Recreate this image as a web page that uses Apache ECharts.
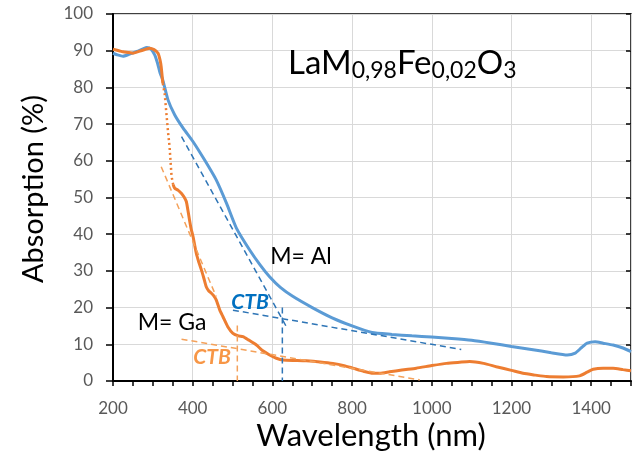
<!DOCTYPE html>
<html>
<head>
<meta charset="utf-8">
<script src="https://cdn.jsdelivr.net/npm/echarts@6/dist/echarts.min.js"></script>
<style>html,body{margin:0;padding:0;background:#fff}#c{width:635px;height:451px}</style>
</head>
<body>
<div id="c"></div>
<script>
// ---- data ----
const xTicks = [200, 400, 600, 800, 1000, 1200, 1400];
const yTicks = [0, 10, 20, 30, 40, 50, 60, 70, 80, 90, 100];

// M = Al (blue)
const alWavelength = [200,210,225,240,260,275,285,295,305,312,318,325,338,355,376,401,430,459,485,510,543,570,593,620,652,700,750,800,850,900,950,1000,1050,1100,1150,1200,1250,1300,1340,1360,1375,1390,1410,1430,1455,1480,1500];
const alAbsorption = [89.3,88.9,88.5,89.0,89.8,90.5,90.9,90.5,88.8,86.5,84,82,76.6,72.5,68.9,65.2,60.2,54.8,48.4,41.6,35.7,31.5,28.4,25.5,23.0,20,17.2,15,13.2,12.7,12.3,12,11.6,11.1,10.3,9.4,8.6,7.7,7.1,7.6,9,10.3,10.7,10.3,9.8,9,8.0];

// M = Ga (orange), solid parts (null = sparse steep part drawn dotted)
const gaWavelength = [200,215,225,240,250,265,280,292,303,313,318,321,325,340,351,355,363,372,378,384,388,392,396,401,409,415,422,428,434,440,447,453,459,468,476,488,501,515,526,540,560,575,593,610,627,660,685,720,752,780,802,830,852,870,894,925,961,1000,1037,1070,1095,1130,1162,1200,1229,1260,1288,1330,1371,1390,1405,1430,1455,1480,1500];
const gaAbsorption = [90.4,90,89.7,89.5,89.3,89.8,90.3,90.7,90.3,89.3,87.5,85.6,81.1,null,53.5,52.5,52,51.1,50.2,48.9,46.5,43.9,41.5,39.3,34.8,32.5,30.2,28,25.7,24.6,23.9,23.2,22.1,19.3,17.5,14.8,13.0,12.3,12.1,11.2,9.8,8.3,7.1,6.2,5.7,5.6,5.5,5.2,4.8,4.2,3.5,2.6,2.1,2.1,2.5,3.0,3.5,4.2,4.8,5.1,5.3,4.8,3.9,2.9,2.1,1.6,1.2,1.1,1.4,2.4,3.2,3.5,3.5,3.1,2.8];
// M = Ga, sparse steep part
const gaSteepWavelength = [325,330,334,338,342,347,351];
const gaSteepAbsorption = [81.1,78,72.9,68,63.8,55.7,53.5];

// tangent constructions
const alTangentSteep = [[372, 66.6], [635, 14.8]];
const alTangentFlat  = [[501, 19.3], [1074, 8.6]];
const alCTB          = [[625, 20], [625, 0]];
const gaTangentSteep = [[321, 58.4], [459, 23.0]];
const gaTangentFlat  = [[372, 11.4], [970, 0.3]];
const gaCTB          = [[512, 15.1], [512, 0]];

const zip = (xs, ys) => xs.map((x, i) => [x, ys[i]]);

const FONT = 'Lato, "Open Sans", sans-serif';
const BLUE = '#5B9BD5', ORANGE = '#ED7D31';
const BLUE_DASH = '#2E75B6', ORANGE_DASH = '#F4A15A';

const chart = echarts.init(document.getElementById('c'), null, {renderer: 'canvas'});

const baseX = {
  type: 'value', min: xTicks[0], max: 1500, interval: 200,
  axisLine: {show: true, lineStyle: {color: '#000', width: 2}},
  splitLine: {show: false}
};
const baseY = {
  type: 'value', min: yTicks[0], max: yTicks[yTicks.length - 1], interval: 10,
  axisLine: {show: true, lineStyle: {color: '#000', width: 2}},
  splitLine: {show: false}
};

function dashed(data, color) {
  return {
    type: 'line', data: data, symbol: 'none', silent: true, z: 4,
    lineStyle: {color: color, width: 1.5, type: [6, 4]}
  };
}

chart.setOption({
  animation: false,
  backgroundColor: '#fff',
  grid: {left: 113, right: 4, top: 14, bottom: 70, show: true, borderColor: '#000', borderWidth: 1.5},
  xAxis: [
    Object.assign({}, baseX, {
      axisTick: {show: true, length: 5, lineStyle: {color: '#000', width: 1.5}},
      minorTick: {show: true, splitNumber: 4, length: 5, lineStyle: {color: '#000', width: 1.5}},
      axisLabel: {show: true, margin: 19, fontSize: 17, color: '#595959', fontFamily: FONT, showMaxLabel: false,
                  formatter: v => String(v)},
      splitLine: {show: true, lineStyle: {color: '#D9D9D9', width: 1}}
    }),
    Object.assign({}, baseX, {
      axisLine: {show: false},
      axisTick: {show: true, inside: true, length: 5, lineStyle: {color: '#000', width: 1.5}},
      minorTick: {show: true, splitNumber: 4, length: 5, lineStyle: {color: '#000', width: 1.5}},
      axisLabel: {show: false}
    })
  ],
  yAxis: [
    Object.assign({}, baseY, {
      axisTick: {show: true, length: 7, lineStyle: {color: '#000', width: 1.5}},
      axisLabel: {show: true, margin: 20, fontSize: 17, color: '#595959', fontFamily: FONT},
      splitLine: {show: true, lineStyle: {color: '#D9D9D9', width: 1}}
    }),
    Object.assign({}, baseY, {
      axisLine: {show: false},
      axisTick: {show: true, inside: true, length: 5, lineStyle: {color: '#000', width: 1.5}},
      axisLabel: {show: false}
    })
  ],
  series: [
    {name: 'M= Al', type: 'line', data: zip(alWavelength, alAbsorption), symbol: 'none', smooth: 0.2,
     lineStyle: {color: BLUE, width: 3}, z: 2},
    {name: 'M= Ga', type: 'line', data: zip(gaWavelength, gaAbsorption), symbol: 'none', smooth: 0.2,
     connectNulls: false, lineStyle: {color: ORANGE, width: 3}, z: 3},
    {name: 'M= Ga steep', type: 'line', data: zip(gaSteepWavelength, gaSteepAbsorption), symbol: 'none',
     lineStyle: {color: ORANGE, width: 2.5, type: [2, 3]}, z: 3},
    dashed(alTangentSteep, BLUE_DASH),
    dashed(alTangentFlat, BLUE_DASH),
    dashed(alCTB, BLUE_DASH),
    dashed(gaTangentSteep, ORANGE_DASH),
    dashed(gaTangentFlat, ORANGE_DASH),
    dashed(gaCTB, ORANGE_DASH)
  ],
  graphic: [
    {type: 'text', x: 288, y: 63, z: 10, style: {
      text: '{b|LaM}{s|0,98}{b|Fe}{s|0,02}{b|O}{s|3}',
      verticalAlign: 'middle', align: 'left',
      rich: {
        b: {fontSize: 33, fontFamily: FONT, fill: '#000', lineHeight: 38},
        s: {fontSize: 23, fontFamily: FONT, fill: '#000', lineHeight: 13, verticalAlign: 'bottom'}
      }}},
    {type: 'text', x: 301, y: 257, z: 10, style: {text: 'M= Al', fontSize: 23, fontFamily: FONT, fill: '#000', align: 'center', verticalAlign: 'middle'}},
    {type: 'text', x: 172, y: 323, z: 10, style: {text: 'M= Ga', fontSize: 23, fontFamily: FONT, fill: '#000', align: 'center', verticalAlign: 'middle'}},
    {type: 'text', x: 250, y: 302, z: 10, style: {text: 'CTB', fontSize: 21, fontWeight: 'bold', fontStyle: 'italic', fontFamily: FONT, fill: '#0070C0', align: 'center', verticalAlign: 'middle'}},
    {type: 'text', x: 212, y: 357, z: 10, style: {text: 'CTB', fontSize: 21, fontWeight: 'bold', fontStyle: 'italic', fontFamily: FONT, fill: '#F79646', align: 'center', verticalAlign: 'middle'}},
    {type: 'text', x: 34, y: 189, rotation: Math.PI / 2, z: 10, style: {text: 'Absorption (%)', fontSize: 29, fontFamily: FONT, fill: '#000', align: 'center', verticalAlign: 'middle'}},
    {type: 'text', x: 371, y: 436, z: 10, style: {text: 'Wavelength (nm)', fontSize: 31, fontFamily: FONT, fill: '#000', align: 'center', verticalAlign: 'middle'}}
  ]
});
</script>
</body>
</html>
